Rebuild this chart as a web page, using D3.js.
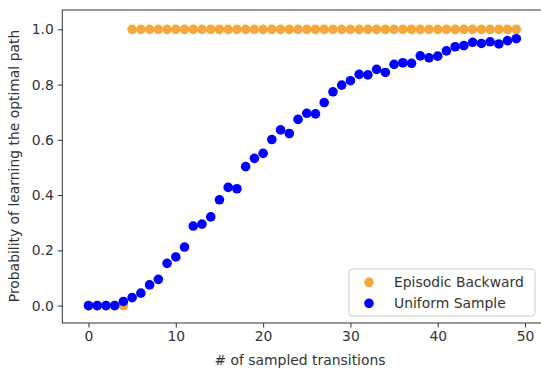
<!DOCTYPE html>
<html>
<head>
<meta charset="utf-8">
<script src="https://cdn.jsdelivr.net/npm/d3@7"></script>
<style>
  body { margin: 0; background: #fff; }
  text { font-family: "DejaVu Sans", sans-serif; fill: #333; }
</style>
</head>
<body>
<div id="vis-svg"></div>
<script>
var width = 541;
var height = 369;

// data
var steps = d3.range(0, 50);
var episodicBackward = [0, 0, 0, 0, 0, 1, 1, 1, 1, 1, 1, 1, 1, 1, 1, 1, 1, 1, 1, 1,
  1, 1, 1, 1, 1, 1, 1, 1, 1, 1, 1, 1, 1, 1, 1, 1, 1, 1, 1, 1,
  1, 1, 1, 1, 1, 1, 1, 1, 1, 1];
var uniformSample = [0, 0, 0, 0, 0.015, 0.029, 0.045, 0.075, 0.095, 0.153,
  0.176, 0.212, 0.288, 0.295, 0.321, 0.383, 0.428, 0.423, 0.503, 0.533,
  0.551, 0.601, 0.636, 0.623, 0.674, 0.696, 0.694, 0.735, 0.774, 0.798,
  0.814, 0.837, 0.835, 0.855, 0.844, 0.873, 0.879, 0.877, 0.904, 0.897,
  0.903, 0.922, 0.937, 0.941, 0.953, 0.949, 0.955, 0.947, 0.959, 0.966];
var xTicks = [0, 10, 20, 30, 40, 50];
var yTicks = [0, 0.2, 0.4, 0.6, 0.8, 1.0];
var seriesNames = ["Episodic Backward", "Uniform Sample"];
var seriesColors = ["#f5a73b", "#0000ff"];

var fontSize = "13.9px";

var svg = d3
  .select("#vis-svg")
  .append("svg")
  .attr("width", width)
  .attr("height", height);

var x = d3.scaleLinear().domain([-3, 52]).range([62.3, 542.5]);
var y = d3.scaleLinear().domain([-0.063, 1.07]).range([323, 10]);

// points: orange first, blue on top
[episodicBackward, uniformSample].forEach(function(vals, i) {
  svg.append("g")
    .selectAll("circle")
    .data(vals)
    .enter()
    .append("circle")
    .attr("cx", function(d, j) { return x(steps[j]); })
    .attr("cy", function(d) { return y(d); })
    .attr("r", 4.8)
    .attr("fill", seriesColors[i]);
});

var xAxis = svg.append("g")
  .attr("transform", "translate(0," + y.range()[0] + ")")
  .call(d3.axisBottom(x).tickValues(xTicks).tickSize(4.5).tickPadding(4).tickFormat(d3.format("d")));

var yAxis = svg.append("g")
  .attr("transform", "translate(" + x.range()[0] + ",0)")
  .call(d3.axisLeft(y).tickValues(yTicks).tickSize(4.5).tickPadding(4).tickFormat(d3.format(".1f")));

[xAxis, yAxis].forEach(function(a) {
  a.select(".domain").remove();
  a.selectAll("line").attr("stroke", "#333");
  a.selectAll("text")
    .style("font-family", "DejaVu Sans, sans-serif")
    .style("font-size", fontSize)
    .attr("fill", "#333");
});

// frame
svg.append("rect")
  .attr("x", x.range()[0])
  .attr("y", y.range()[1])
  .attr("width", x.range()[1] - x.range()[0])
  .attr("height", y.range()[0] - y.range()[1])
  .attr("fill", "none")
  .attr("stroke", "#333")
  .attr("stroke-width", 1);

svg.append("text")
  .attr("x", 300)
  .attr("y", 365)
  .attr("text-anchor", "middle")
  .style("font-size", fontSize)
  .text("# of sampled transitions");

svg.append("text")
  .attr("transform", "translate(19,166) rotate(-90)")
  .attr("text-anchor", "middle")
  .style("font-size", fontSize)
  .text("Probability of learning the optimal path");

// legend
var legend = svg.append("g");
legend.append("rect")
  .attr("x", 349)
  .attr("y", 269)
  .attr("width", 186)
  .attr("height", 47)
  .attr("rx", 3)
  .attr("fill", "#fff")
  .attr("fill-opacity", 0.8)
  .attr("stroke", "#ccc");

seriesNames.forEach(function(name, i) {
  var cy = 282.3 + i * 21;
  legend.append("circle")
    .attr("cx", 369)
    .attr("cy", cy)
    .attr("r", 4.8)
    .attr("fill", seriesColors[i]);
  legend.append("text")
    .attr("x", 394)
    .attr("y", cy)
    .attr("dy", "0.35em")
    .style("font-size", fontSize)
    .text(name);
});
</script>
</body>
</html>
